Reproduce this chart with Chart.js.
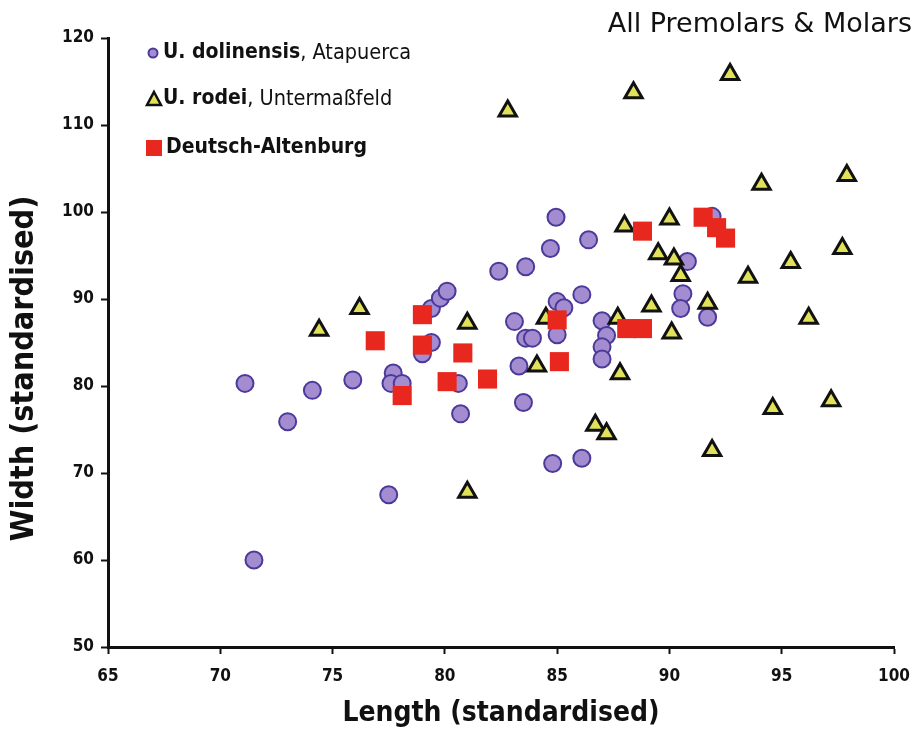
<!DOCTYPE html>
<html>
<head>
<meta charset="utf-8">
<script src="https://cdn.jsdelivr.net/npm/chart.js@4/dist/chart.umd.min.js"></script>
<style>
  html, body { margin: 0; padding: 0; background: #fff; }
  #wrap { width: 916px; height: 737px; position: relative; }
</style>
</head>
<body>
<div id="wrap"><canvas id="c" width="916" height="737"></canvas></div>
<script>
// Tooth crown measurements (standardised length, standardised width)
const dolinensisLength = [71.1, 73.0, 74.1, 75.9, 77.7, 77.6, 78.1, 77.5, 71.5, 79.0, 79.4, 79.4, 79.8, 80.1, 80.6, 80.7, 82.4, 83.6, 83.1, 83.6, 83.9, 83.3, 83.5, 84.7, 84.95, 85.0, 85.3, 85.0, 84.8, 86.1, 86.1, 86.4, 87.0, 87.2, 87.0, 87.0, 90.6, 90.5, 90.8, 91.7, 91.9];
const dolinensisWidth  = [80.3, 75.9, 79.5, 80.7, 81.5, 80.3, 80.3, 67.5, 60.0, 83.7, 85.0, 88.9, 90.1, 90.9, 80.3, 76.8, 93.2, 93.7, 87.4, 85.5, 85.5, 82.3, 78.1, 95.8, 99.4, 89.7, 89.0, 85.9, 71.1, 71.7, 90.5, 96.8, 87.5, 85.8, 84.5, 83.1, 90.6, 88.9, 94.3, 87.9, 99.5];

const rodeiLength = [74.4, 76.2, 81.0, 81.0, 82.8, 84.1, 84.5, 86.7, 87.2, 87.7, 87.8, 88.0, 88.4, 89.2, 89.5, 90.0, 90.1, 90.2, 90.5, 91.7, 91.9, 92.7, 93.5, 94.1, 94.6, 95.4, 96.2, 97.2, 97.7, 97.9];
const rodeiWidth  = [86.4, 88.9, 87.2, 67.8, 111.6, 82.3, 87.8, 75.5, 74.5, 87.8, 81.4, 98.4, 113.7, 89.2, 95.2, 99.2, 86.1, 94.6, 92.7, 89.5, 72.6, 115.8, 92.5, 103.2, 77.4, 94.2, 87.8, 78.3, 95.8, 104.2];

const altenburgLength = [76.9, 78.1, 79.0, 79.0, 80.1, 80.8, 81.9, 85.0, 85.1, 88.1, 88.8, 88.8, 91.5, 92.1, 92.5];
const altenburgWidth  = [85.2, 78.9, 88.2, 84.7, 80.5, 83.8, 80.8, 87.6, 82.8, 86.6, 86.6, 97.8, 99.4, 98.2, 97.0];

const xTicks = [65, 70, 75, 80, 85, 90, 95, 100];
const yTicks = [50, 60, 70, 80, 90, 100, 110, 120];

const chartTitle = 'All Premolars & Molars';
const xTitle = 'Length (standardised)';
const yTitle = 'Width (standardised)';

const pairs = (xs, ys) => xs.map((x, i) => ({ x, y: ys[i] }));

const FONT = "'DejaVu Sans Condensed', 'Liberation Sans Narrow', Roboto, sans-serif";
const TITLE_FONT = "'DejaVu Sans', 'Open Sans', sans-serif";

const COLORS = {
  circleFill: '#a38dd0', circleEdge: '#4b3a9a',
  triFill: '#e2e25a', triEdge: '#111111',
  square: '#e8281f', text: '#111111'
};

// Legend rows: species name in bold, locality in regular weight
const legendRows = [
  { style: 'circle', bold: 'U. dolinensis', rest: ', Atapuerca' },
  { style: 'triangle', bold: 'U. rodei', rest: ', Untermaßfeld' },
  { style: 'rect', bold: 'Deutsch-Altenburg', rest: '' }
];

// Draws the headline, the rotated y-axis title (centred on the canvas) and the inset legend
const decorations = {
  id: 'decorations',
  afterDraw(chart) {
    const { ctx, chartArea, width, height } = chart;
    ctx.save();

    ctx.fillStyle = COLORS.text;
    ctx.font = `27px ${TITLE_FONT}`;
    ctx.textAlign = 'right';
    ctx.textBaseline = 'alphabetic';
    ctx.fillText(chartTitle, width - 4, 32);

    ctx.save();
    ctx.translate(25, height / 2);
    ctx.rotate(-Math.PI / 2);
    ctx.textAlign = 'center';
    ctx.textBaseline = 'middle';
    ctx.font = `bold 32px ${FONT}`;
    ctx.fillText(yTitle, 0, 0);
    ctx.restore();

    const mx = chartArea.left + 45;
    const rowsY = [chartArea.top + 15, chartArea.top + 61, chartArea.top + 110];
    ctx.textAlign = 'left';
    legendRows.forEach((row, i) => {
      const y = rowsY[i];
      let tx = mx + 10;
      if (row.style === 'circle') {
        ctx.beginPath();
        ctx.arc(mx, y, 4.5, 0, Math.PI * 2);
        ctx.fillStyle = COLORS.circleFill; ctx.fill();
        ctx.lineWidth = 2; ctx.strokeStyle = COLORS.circleEdge; ctx.stroke();
      } else if (row.style === 'triangle') {
        ctx.beginPath();
        ctx.moveTo(mx + 1, y - 7); ctx.lineTo(mx + 8, y + 6); ctx.lineTo(mx - 6, y + 6); ctx.closePath();
        ctx.fillStyle = COLORS.triFill; ctx.fill();
        ctx.lineWidth = 2.5; ctx.strokeStyle = COLORS.triEdge; ctx.stroke();
      } else {
        ctx.fillStyle = COLORS.square;
        ctx.fillRect(mx - 7, y - 8, 16, 16);
        tx = mx + 13;
      }
      ctx.textBaseline = 'middle';
      ctx.fillStyle = COLORS.text;
      ctx.font = `bold 21px ${FONT}`;
      ctx.fillText(row.bold, tx, y);
      const w = ctx.measureText(row.bold).width;
      ctx.font = `21.5px ${FONT}`;
      ctx.fillText(row.rest, tx + w, y);
    });
    ctx.restore();
  }
};

new Chart(document.getElementById('c'), {
  type: 'scatter',
  data: {
    datasets: [
      {
        label: 'U. dolinensis, Atapuerca',
        data: pairs(dolinensisLength, dolinensisWidth),
        pointStyle: 'circle', pointRadius: 8.5, pointHoverRadius: 8.5,
        backgroundColor: COLORS.circleFill, borderColor: COLORS.circleEdge, borderWidth: 2,
        order: 3
      },
      {
        label: 'U. rodei, Untermaßfeld',
        data: pairs(rodeiLength, rodeiWidth),
        pointStyle: 'triangle', pointRadius: 10, pointHoverRadius: 10,
        backgroundColor: COLORS.triFill, borderColor: COLORS.triEdge, borderWidth: 3,
        order: 2
      },
      {
        label: 'Deutsch-Altenburg',
        data: pairs(altenburgLength, altenburgWidth),
        pointStyle: 'rect', pointRadius: 13.5, pointHoverRadius: 13.5,
        backgroundColor: COLORS.square, borderColor: COLORS.square, borderWidth: 0,
        order: 1
      }
    ]
  },
  options: {
    responsive: false,
    animation: false,
    events: [],
    layout: { padding: { left: 8, right: 22, top: 38, bottom: 6 } },
    plugins: {
      legend: { display: false },
      tooltip: { enabled: false },
      title: { display: false }
    },
    scales: {
      x: {
        type: 'linear',
        min: xTicks[0], max: xTicks[xTicks.length - 1],
        afterBuildTicks: (s) => { s.ticks = xTicks.map(v => ({ value: v })); },
        afterFit: (s) => {
          s.height = 737 - 647 - 6;
          // end labels fit inside the outer padding already
          s.paddingLeft = 0;
          s.paddingRight = 0;
        },
        grid: { display: true, drawOnChartArea: false, drawTicks: true, tickLength: 7, tickColor: '#111', tickWidth: 2 },
        border: { display: true, color: '#111', width: 3 },
        ticks: { color: COLORS.text, padding: 12, font: { family: FONT, size: 17, weight: 'bold' }, maxRotation: 0 },
        title: { display: true, text: xTitle, color: COLORS.text, padding: { top: 0, bottom: 0 },
                 font: { family: FONT, size: 28, weight: 'bold' } }
      },
      y: {
        type: 'linear',
        min: yTicks[0], max: yTicks[yTicks.length - 1],
        afterBuildTicks: (s) => { s.ticks = yTicks.map(v => ({ value: v })); },
        afterFit: (s) => { s.width = 108 - 8; },
        grid: { display: true, drawOnChartArea: false, drawTicks: true, tickLength: 7, tickColor: '#111', tickWidth: 2 },
        border: { display: true, color: '#111', width: 3 },
        ticks: { color: COLORS.text, padding: 7, font: { family: FONT, size: 17, weight: 'bold' } },
        title: { display: false }
      }
    }
  },
  plugins: [decorations]
});
</script>
</body>
</html>
